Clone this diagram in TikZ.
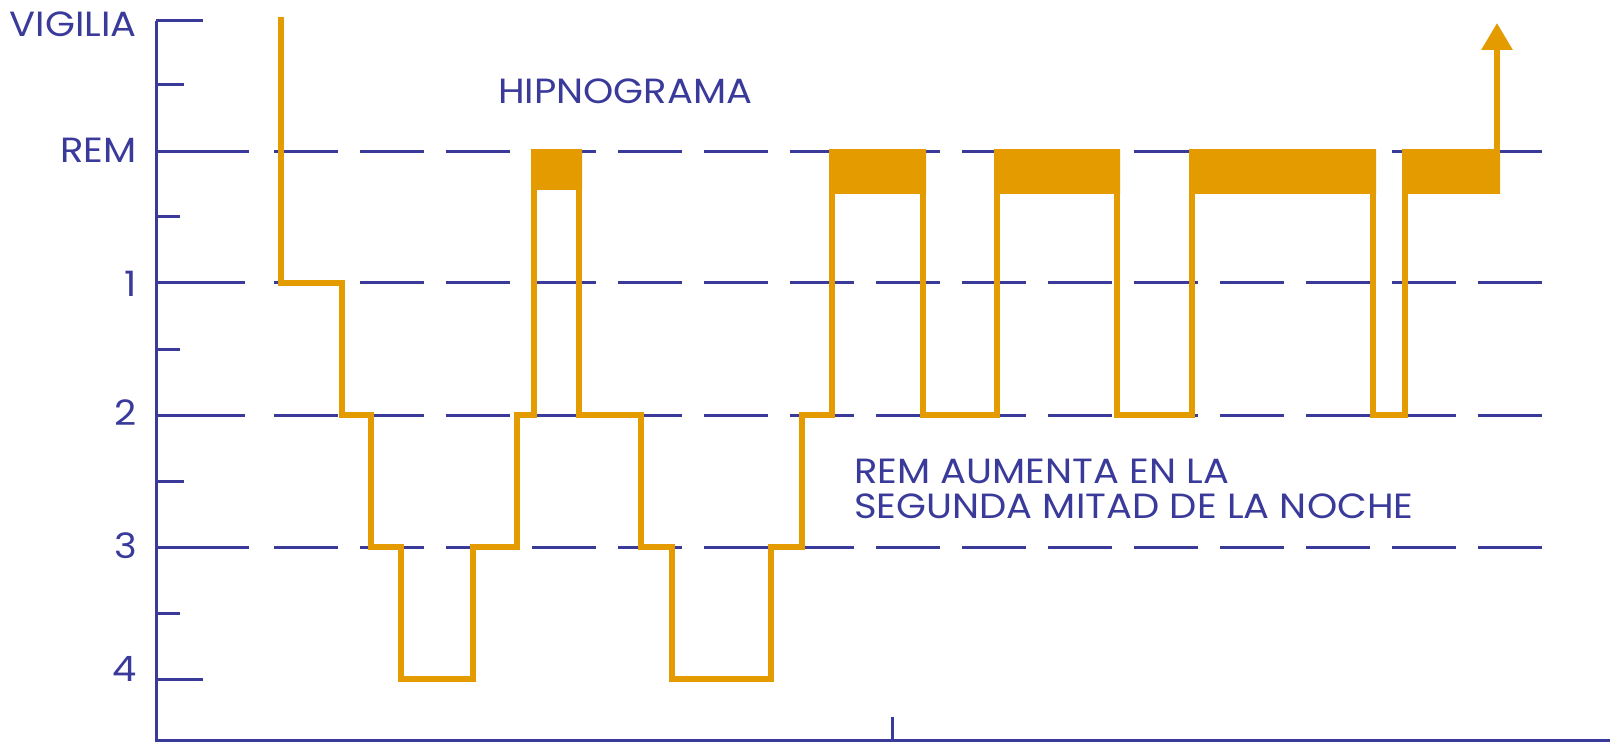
\documentclass[tikz,border=0pt]{standalone}
\usepackage{fontspec}
\setmainfont{Poppins}[FakeStretch=1.1]
\usetikzlibrary{arrows.meta}
\definecolor{axisblue}{RGB}{58,58,155}
\definecolor{sleeporange}{RGB}{227,155,0}

\begin{document}
\begin{tikzpicture}[x=1pt,y=-1pt,
    axisline/.style={axisblue,line width=3pt},
    levelline/.style={axisblue,line width=3pt,dash pattern=on 64pt off 22pt},
    stagelabel/.style={axisblue,anchor=base east,inner sep=0pt,font=\fontsize{35}{42}\selectfont},
    hypno/.style={sleeporange,line width=6pt,line join=miter}]
    \useasboundingbox (0,0) rectangle (1614,743);

    % ejes
    \draw[axisline] (156,21) -- (156,740) -- (1610,740);
    \draw[axisline] (892,717) -- (892,740);
    \foreach \y/\len in {21/203,152/249,283/245,415/245,547/249,679/203}
        \draw[axisline] (156,\y) -- (\len,\y);
    \foreach \y/\len in {85/184,217/180,349/180,481/184,613/180}
        \draw[axisline] (156,\y) -- (\len,\y);
    \foreach \y in {152,283,415,547}
        \draw[levelline] (274,\y) -- (1542,\y);

    \foreach \name/\txt/\yb in {vig/VIGILIA/37,rem/REM/163,n1/1/297,n2/2/425,n3/3/558,n4/4/681}
        \node[stagelabel] (lab-\name) at (137,\yb) {\txt};

    \node[stagelabel,anchor=base west] (title) at (498,104) {HIPNOGRAMA};
    \node[stagelabel,anchor=base west] (noteA) at (854,483) {REM AUMENTA EN LA};
    \node[stagelabel,anchor=base west] (noteB) at (854,518) {SEGUNDA MITAD DE LA NOCHE};

    % hipnograma
    \fill[sleeporange] (531,150) rectangle (582,190) (829,150) rectangle (926,194)
        (994,150) rectangle (1120,194) (1189,150) rectangle (1376,194)
        (1402,152) rectangle (1500,194);
    \draw[hypno,-{Triangle[width=30pt,length=27pt]}] (281,17) |- (342,283) |- (371,415)
        |- (401,547) |- (473,679) |- (517,547) |- (534,415) |- (579,152) |- (641,415)
        |- (672,547) |- (771,679) |- (802,547) |- (832,415) |- (923,152) |- (997,415)
        |- (1117,152) |- (1192,415) |- (1373,152) |- (1405,415) |- (1497,152) -- (1497,23);
\end{tikzpicture}
\end{document}
